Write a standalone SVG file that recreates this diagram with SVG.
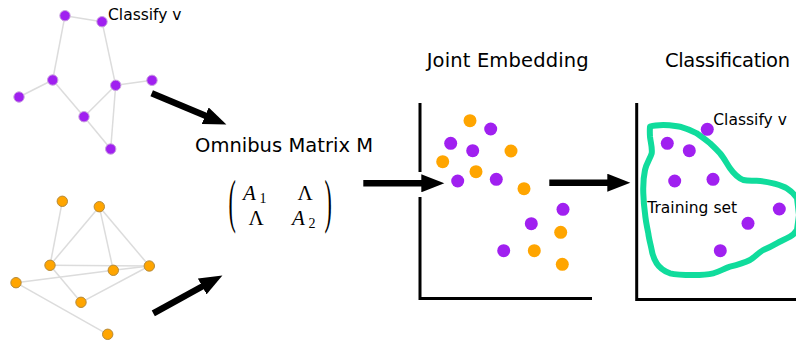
<svg xmlns="http://www.w3.org/2000/svg" width="796" height="343" viewBox="0 0 796 343">
<style>
.edge{stroke:#dcdcdc;stroke-width:1.5;fill:none}
.pn{fill:#a020f0;stroke:#c9a0e0;stroke-width:1}
.on{fill:#ffa500;stroke:#b58a3a;stroke-width:1}
.pd{fill:#a020f0}
.od{fill:#ffa500}
.lbl{font-family:"DejaVu Sans",Verdana,sans-serif;fill:#000}
.title{font-size:19.5px}
.small{font-size:15.5px}
.math{font-family:"Liberation Serif","Times New Roman",serif;fill:#000}
.axis{stroke:#000;stroke-width:3;fill:none}
.arrow{stroke:#000;stroke-width:6.5;fill:none;marker-end:url(#ah)}
</style>
<defs>
<marker id="ah" markerUnits="userSpaceOnUse" markerWidth="24" markerHeight="18" viewBox="0 0 24 18" refX="1" refY="9" orient="auto">
<path d="M0,0 L23,9 L0,18 z" fill="#000"/>
</marker>
</defs>
<rect width="796" height="343" fill="#fff"/>

<g id="graph1">
<g class="edge">
<line x1="65" y1="15.7" x2="102" y2="21.7"/>
<line x1="65" y1="15.7" x2="52.7" y2="80"/>
<line x1="102" y1="21.7" x2="115.7" y2="85.3"/>
<line x1="52.7" y1="80" x2="19" y2="97"/>
<line x1="52.7" y1="80" x2="84" y2="116.7"/>
<line x1="115.7" y1="85.3" x2="152" y2="80.3"/>
<line x1="115.7" y1="85.3" x2="84" y2="116.7"/>
<line x1="115.7" y1="85.3" x2="110.7" y2="149"/>
<line x1="84" y1="116.7" x2="110.7" y2="149"/>
</g>
<circle class="pn" cx="65" cy="15.7" r="5.2"/>
<circle class="pn" cx="102" cy="21.7" r="5.2"/>
<circle class="pn" cx="52.7" cy="80" r="5.2"/>
<circle class="pn" cx="115.7" cy="85.3" r="5.2"/>
<circle class="pn" cx="152" cy="80.3" r="5.2"/>
<circle class="pn" cx="19" cy="97" r="5.2"/>
<circle class="pn" cx="84" cy="116.7" r="5.2"/>
<circle class="pn" cx="110.7" cy="149" r="5.2"/>
<text class="lbl small" x="108" y="19.5">Classify v</text>
</g>

<g id="graph2">
<g class="edge">
<line x1="62.3" y1="201.3" x2="50" y2="265.3"/>
<line x1="99.3" y1="206.7" x2="50" y2="265.3"/>
<line x1="99.3" y1="206.7" x2="113.3" y2="270.3"/>
<line x1="99.3" y1="206.7" x2="149.3" y2="266"/>
<line x1="50" y1="265.3" x2="149.3" y2="266"/>
<line x1="50" y1="265.3" x2="81" y2="302.3"/>
<line x1="16" y1="282.7" x2="113.3" y2="270.3"/>
<line x1="113.3" y1="270.3" x2="149.3" y2="266"/>
<line x1="81" y1="302.3" x2="149.3" y2="266"/>
<line x1="16" y1="282.7" x2="107.7" y2="334.3"/>
</g>
<circle class="on" cx="62.3" cy="201.3" r="5.2"/>
<circle class="on" cx="99.3" cy="206.7" r="5.2"/>
<circle class="on" cx="50" cy="265.3" r="5.2"/>
<circle class="on" cx="113.3" cy="270.3" r="5.2"/>
<circle class="on" cx="149.3" cy="266" r="5.2"/>
<circle class="on" cx="16" cy="282.7" r="5.2"/>
<circle class="on" cx="81" cy="302.3" r="5.2"/>
<circle class="on" cx="107.7" cy="334.3" r="5.2"/>
</g>

<g id="connectors">
<line class="arrow" x1="151.7" y1="93.3" x2="206.1" y2="116.1"/>
<line class="arrow" x1="153.3" y1="313.3" x2="203.1" y2="286"/>
<line class="arrow" x1="363.3" y1="183.3" x2="422.3" y2="183.3"/>
<line class="arrow" x1="549.3" y1="182.7" x2="608.3" y2="182.7"/>
</g>

<g id="omnibus">
<text class="lbl title" x="195" y="152.3" textLength="178" lengthAdjust="spacing">Omnibus Matrix M</text>
<text class="math" font-size="22" transform="translate(228.5,221) scale(1,2.7)">(</text>
<text class="math" font-size="22" transform="translate(324.5,221) scale(1,2.7)">)</text>
<text class="math" font-size="21" font-style="italic" x="243" y="200">A</text>
<text class="math" font-size="14" x="259.5" y="203">1</text>
<text class="math" font-size="21" x="297.5" y="199.5">Λ</text>
<text class="math" font-size="21" x="248.5" y="225">Λ</text>
<text class="math" font-size="21" font-style="italic" x="292" y="225">A</text>
<text class="math" font-size="14" x="308.5" y="228.3">2</text>
</g>

<g id="joint-embedding">
<text class="lbl title" x="426.7" y="67" textLength="162" lengthAdjust="spacing">Joint Embedding</text>
<path class="axis" d="M420,103 V172 M420,197 V298.5 H592"/>
<circle class="od" cx="470" cy="120.7" r="6.5"/>
<circle class="od" cx="511" cy="151" r="6.5"/>
<circle class="od" cx="442.7" cy="161.7" r="6.5"/>
<circle class="od" cx="476" cy="171.7" r="6.5"/>
<circle class="od" cx="524" cy="188.7" r="6.5"/>
<circle class="od" cx="560.7" cy="232.3" r="6.5"/>
<circle class="od" cx="534.3" cy="250.7" r="6.5"/>
<circle class="od" cx="562.3" cy="264.3" r="6.5"/>
<circle class="pd" cx="490.7" cy="129" r="6.5"/>
<circle class="pd" cx="450.7" cy="143.3" r="6.5"/>
<circle class="pd" cx="472.7" cy="150.7" r="6.5"/>
<circle class="pd" cx="457.7" cy="181" r="6.5"/>
<circle class="pd" cx="496.3" cy="179.3" r="6.5"/>
<circle class="pd" cx="563" cy="209.3" r="6.5"/>
<circle class="pd" cx="531.3" cy="223.7" r="6.5"/>
<circle class="pd" cx="503.7" cy="250.7" r="6.5"/>
</g>

<g id="classification">
<text class="lbl title" x="665" y="67" textLength="125" lengthAdjust="spacing">Classification</text>
<path class="axis" d="M636.7,103 V299.5 H796"/>
<path d="M650,126.7 C655,125 660,125 663.3,125 C670,125 675,126 680,126.7 C688,129 692,131 696.7,133.3 C702,137 706,140 710,143.3 C714,147 717,150 720,153.3 C724,158 727,164 730,168.3 C734,174 738,178 743.3,180 C748,181 752,180.5 756.7,180.7 C763,181 768,182 773.3,183.3 C779,185 783,186 786.7,188.3 C791,191 794,194 797,198 L799,215 L797,230 C795,233 793,235 790,236.7 C786,239 781,241 776.7,243.3 C772,246 768,248 763.3,250 C758,253 755,257 750,260 C744,263 737,265 730,266.7 C724,268.5 719,272 713.3,273.3 C706,275 700,275 693.3,275 C685,275 677,275 670,273.3 C664,271 659,267 656.7,263.3 C654,259 652.5,255 651.7,250 C650.5,244 649,239 648.3,233.3 C647,227 645.5,220 645,213.3 C644,206 643.5,200 643.3,193.3 C643,185 643.5,177 645,170 C646.5,163 650,159 651.7,153.3 C652.5,148 650.5,142 650,136.7 C649.7,132 649.8,129 650,126.7 Z" fill="none" stroke="#10dc9c" stroke-width="6" stroke-linejoin="round"/>
<circle class="pd" cx="707.3" cy="129.3" r="6.5"/>
<circle class="pd" cx="667.3" cy="143.3" r="6.5"/>
<circle class="pd" cx="689.3" cy="150.7" r="6.5"/>
<circle class="pd" cx="674.7" cy="181" r="6.5"/>
<circle class="pd" cx="713" cy="179.3" r="6.5"/>
<circle class="pd" cx="779.3" cy="209" r="6.5"/>
<circle class="pd" cx="748" cy="223.3" r="6.5"/>
<circle class="pd" cx="720.3" cy="250.7" r="6.5"/>
<text class="lbl small" x="713.3" y="125">Classify v</text>
<text class="lbl small" x="647.3" y="213.3">Training set</text>
</g>
</svg>
